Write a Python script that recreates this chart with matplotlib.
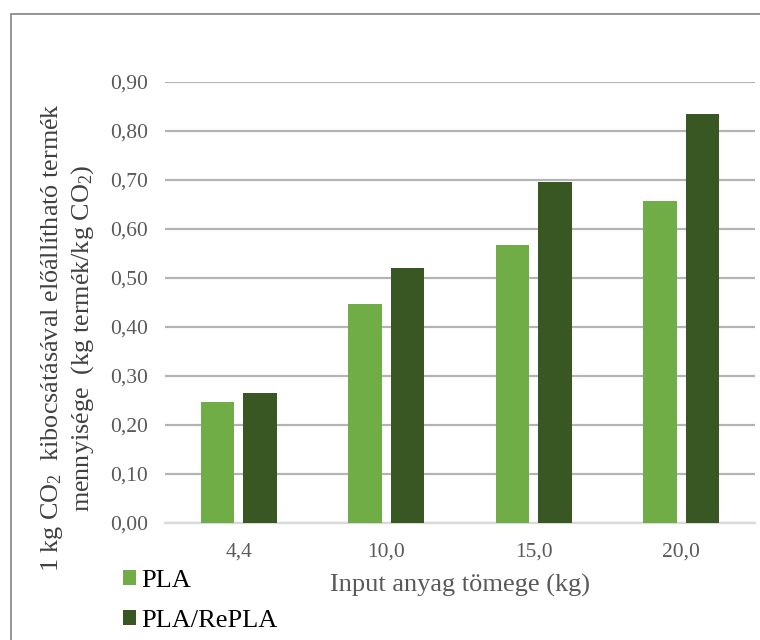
import numpy as np
import matplotlib.pyplot as plt
from matplotlib.patches import Rectangle

plt.rcParams['font.family'] = ['Liberation Serif', 'DejaVu Serif']
plt.rcParams['mathtext.fontset'] = 'custom'
plt.rcParams['mathtext.rm'] = 'Liberation Serif'
plt.rcParams['mathtext.default'] = 'regular'

categories = ["4,4", "10,0", "15,0", "20,0"]
pla = [0.247, 0.447, 0.567, 0.657]
pla_repla = [0.265, 0.520, 0.696, 0.835]
yticks = [0.0, 0.1, 0.2, 0.3, 0.4, 0.5, 0.6, 0.7, 0.8, 0.9]

fig = plt.figure(figsize=(7.6, 6.4), dpi=100)
ax = fig.add_axes([165 / 760, 117 / 640, 590 / 760, 441 / 640])

x = np.arange(len(categories))
w = 0.227
off = 0.145
ax.bar(x - off, pla, width=w, color='#70AD47', label='PLA', zorder=3)
ax.bar(x + off, pla_repla, width=w, color='#385723', label='PLA/RePLA', zorder=3)

ax.set_xlim(-0.5, len(categories) - 0.5)
ax.set_ylim(0, 0.9)
ax.set_yticks(yticks)
ax.set_yticklabels([f"{v:.2f}".replace('.', ',') for v in yticks])
ax.set_xticks(x)
ax.set_xticklabels(categories)
ax.tick_params(length=0, labelsize=15.5, labelcolor='#595959')
ax.tick_params(axis='x', pad=14)
ax.tick_params(axis='y', pad=12)

ax.grid(axis='y', color='#B4B4B4', linewidth=1.6, zorder=0)
for s in ['top', 'right', 'left']:
    ax.spines[s].set_visible(False)
ax.spines['bottom'].set_color('#D9D9D9')
ax.spines['bottom'].set_linewidth(1.6)

ax.set_xlabel("Input anyag tömege (kg)", fontsize=19, color='#595959', labelpad=9)
ax.set_ylabel("1 kg CO$_2$  kibocsátásával előállítható termék\nmennyisége  (kg termék/kg CO$_2$)",
              fontsize=18.8, color='#404040', labelpad=10, linespacing=1.25)
ax.yaxis.label.set_y(0.42)

fig.legend(loc='upper left', bbox_to_anchor=(112 / 760, 1 - 559 / 640), frameon=False,
           fontsize=19, handlelength=0.5, handleheight=0.5, handletextpad=0.2,
           labelspacing=0.7, borderaxespad=0)

# outer chart frame
fig.patches.append(Rectangle((11 / 760, -0.1), 1.2, 1 - 14 / 640 + 0.1,
                             transform=fig.transFigure, fill=False,
                             edgecolor='#8C8C8C', linewidth=1.3))

fig.savefig("out.png", dpi=100)
